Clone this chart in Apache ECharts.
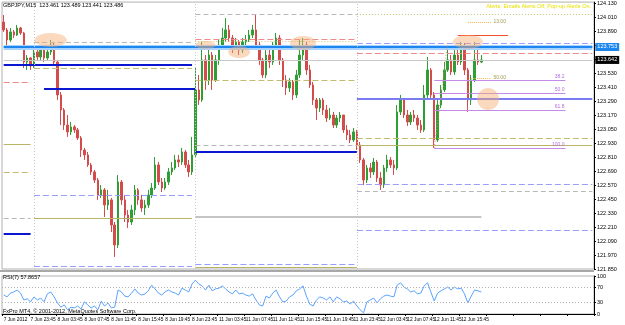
<!DOCTYPE html>
<html><head><meta charset="utf-8">
<script src="https://cdn.jsdelivr.net/npm/echarts@6/dist/echarts.min.js"></script>
<style>html,body{margin:0;padding:0;background:#fff}#c{width:625px;height:325px}</style>
</head><body><div id="c"></div>
<script>
// ---------- data ----------
const symbol = 'GBPJPY,M15';
const headerQuote = '123.461 123.489 123.441 123.486';
const alertText = 'Alerts: Emails Alerts Off, Pop-up Alerts On.';
const copyrightText = 'FxPro MT4, \u00a9 2001-2012, MetaQuotes Software Corp.';
const tickLabels = ['7 Jun 2012','7 Jun 23:45','8 Jun 03:45','8 Jun 07:45','8 Jun 11:45','8 Jun 15:45','8 Jun 19:45','8 Jun 23:45','11 Jun 03:45','11 Jun 07:45','11 Jun 11:45','11 Jun 15:45','11 Jun 19:45','11 Jun 23:45','12 Jun 03:45','12 Jun 07:45','12 Jun 11:45','12 Jun 15:45'];
const totalSlots = 176;
const firstOpen = 123.967;
const closes = [
123.899,123.813,123.882,123.856,123.916,123.873,123.624,123.659,123.590,123.710,
123.667,123.727,123.659,123.710,123.770,123.624,123.342,123.213,123.084,123.025,
123.068,123.042,122.973,122.870,122.828,122.742,122.682,122.613,122.485,122.528,
122.399,122.442,122.227,122.056,122.596,122.442,122.313,122.253,122.356,122.528,
122.442,122.373,122.399,122.485,122.544,122.742,122.596,122.544,122.596,122.682,
122.716,122.785,122.767,122.853,122.742,122.682,122.828,123.385,123.299,123.642,
123.470,123.684,123.470,123.642,123.770,123.830,123.899,123.830,123.744,123.796,
123.727,123.796,123.813,123.856,123.899,123.770,123.642,123.513,123.684,123.624,
123.770,123.830,123.642,123.470,123.402,123.453,123.342,123.513,123.684,123.770,
123.556,123.427,123.299,123.230,123.299,123.213,123.144,123.170,123.084,123.144,
123.170,123.042,122.999,122.956,123.025,122.913,122.785,122.613,122.716,122.682,
122.767,122.630,122.570,122.716,122.785,122.742,122.716,123.196,123.299,123.170,
123.110,123.170,123.144,123.084,123.042,123.342,123.556,123.342,122.956,123.256,
123.385,123.556,123.642,123.539,123.684,123.624,123.744,123.556,123.299,123.470,
123.642,123.624,123.642];
const highs = [
124.027,123.916,123.916,123.899,123.942,123.925,123.882,123.684,123.667,123.744,
123.727,123.753,123.744,123.727,123.813,123.787,123.642,123.367,123.230,123.170,
123.110,123.084,123.059,122.990,122.888,122.853,122.759,122.699,122.630,122.570,
122.544,122.528,122.459,122.253,122.656,122.613,122.485,122.356,122.399,122.570,
122.544,122.485,122.442,122.528,122.587,122.810,122.767,122.630,122.630,122.716,
122.767,122.828,122.828,122.888,122.870,122.785,122.982,123.573,123.513,123.796,
123.684,123.770,123.710,123.684,123.813,123.916,124.001,123.942,123.856,123.830,
123.813,123.830,123.856,123.899,123.942,124.027,123.796,123.659,123.727,123.727,
123.796,123.873,123.856,123.659,123.513,123.487,123.470,123.556,123.813,123.830,
123.796,123.599,123.453,123.316,123.316,123.316,123.256,123.230,123.196,123.170,
123.196,123.170,123.084,123.042,123.059,123.042,122.939,122.802,122.742,122.759,
122.802,122.785,122.682,122.742,122.828,122.810,122.785,123.256,123.342,123.316,
123.213,123.196,123.213,123.170,123.127,123.427,123.667,123.573,123.367,123.299,
123.427,123.624,123.727,123.684,123.770,123.727,123.796,123.787,123.573,123.513,
123.796,123.744,123.684];
const lows = [
123.882,123.770,123.796,123.830,123.847,123.856,123.573,123.556,123.556,123.573,
123.642,123.642,123.624,123.642,123.684,123.599,123.299,123.084,123.042,122.982,
122.999,123.016,122.956,122.810,122.785,122.725,122.656,122.587,122.442,122.459,
122.296,122.356,122.167,121.953,122.030,122.399,122.253,122.202,122.227,122.313,
122.399,122.339,122.313,122.373,122.459,122.528,122.570,122.510,122.528,122.570,
122.656,122.699,122.725,122.742,122.716,122.639,122.656,122.802,123.256,123.282,
123.385,123.427,123.385,123.453,123.599,123.744,123.796,123.796,123.701,123.727,
123.684,123.701,123.770,123.796,123.830,123.744,123.599,123.487,123.487,123.573,
123.599,123.744,123.599,123.410,123.342,123.367,123.299,123.316,123.487,123.642,
123.513,123.402,123.256,123.127,123.196,123.170,123.110,123.127,123.059,123.059,
123.110,123.016,122.956,122.930,122.939,122.870,122.759,122.570,122.587,122.630,
122.656,122.596,122.528,122.544,122.682,122.716,122.656,122.699,123.170,123.144,
123.076,123.084,123.110,123.042,123.016,123.025,123.316,123.299,122.888,122.939,
123.230,123.367,123.539,123.513,123.513,123.599,123.599,123.513,123.196,123.256,
123.453,123.599,123.616];
const rsi = [
50,45,55,58,63,55,37,40,32,45, 37,42,32,53,58,45,29,18,24,11,
18,16,21,13,32,24,16,21,11,34, 21,29,16,18,63,58,47,45,55,66,
55,50,53,61,76,66,55,50,58,63, 58,55,50,68,63,58,79,89,79,74,
63,76,61,66,68,74,66,58,53,63, 53,55,50,47,53,37,24,21,47,42,
55,63,45,32,34,45,50,61,66,74, 47,26,21,37,45,42,37,45,32,45,
40,32,34,26,34,21,11,3,32,37, 42,29,40,47,50,47,45,76,82,71,
66,58,61,53,55,74,82,58,34,55, 61,66,71,63,71,66,68,53,29,47,
63,61,57.8657];
const yTicks = [121.850,121.970,122.090,122.210,122.330,122.450,122.570,122.690,122.810,122.930,123.050,123.170,123.290,123.410,123.530,123.650,123.770,123.890,124.010,124.130];
const rsiTicks = [0, 30, 70, 100];
const rsiLevels = [30, 70];
const daySeparators = [9, 57, 105];
// horizontal levels: [price, fromBar, toBar]
const blueBand = [[123.753, 0, 175]];
const grayDash = [[123.796, 9, 56], [124.036, 57, 105], [122.913, 57, 105], [122.287, 0, 8], [122.519, 105, 175]];
const oliveDash = [[123.573, 9, 56], [123.470, 57, 105], [122.973, 105, 175], [122.682, 0, 8]];
const oliveSolid = [[122.922, 0, 8], [122.287, 9, 56], [121.867, 57, 105], [122.913, 105, 175]];
const oliveDot = [[124.036, 105, 175], [123.805, 57, 105]];
const redDash = [[123.453, 0, 8], [123.822, 57, 105], [123.701, 105, 175]];
const darkBlue = [[123.599, 0, 56], [123.394, 12, 57], [122.853, 57, 105], [122.150, 0, 8]];
const violetBlue = [[123.308, 105, 175]];
const lavenderDash = [[122.485, 9, 56], [121.870, 9, 56], [121.893, 57, 105], [122.579, 105, 175], [122.182, 105, 175], [123.787, 105, 175]];
const grayThick = [[122.296, 57, 142]];
const redShort = [[123.856, 135, 150]];
const orangeDot = [[123.967, 138, 145, '13.00'], [123.487, 139, 145, '50.00']];
const fibLevels = [[123.796, '0.0'], [123.470, '38.2'], [123.359, '50.0'], [123.213, '61.8'], [122.888, '100.0'], [122.296, '161.8']];
const fibRange = [128, 167];
const zigzag = [[128, 122.888], [132, 123.787]];
const zones = [[14, 123.813], [60, 123.770], [70, 123.710], [89, 123.787], [138, 123.796], [144, 123.308]];

// ---------- build ----------
const cats = Array.from({length: totalSlots}, (_, i) => String(i));
const ohlc = closes.map((c, i) => [i === 0 ? firstOpen : closes[i - 1], c, lows[i], highs[i]]);
const bid = closes[closes.length - 1];
const FONT = 'Liberation Sans';

function segs(list, style) {
  return list.map(l => [
    {coord: [String(l[1]), l[0]], lineStyle: style, label: {show: false}},
    {coord: [String(l[2]), l[0]]}
  ]);
}
const S = {
  grayDash: {color: '#b8b8b8', width: 1, type: [5, 3]},
  oliveDash: {color: '#c2bd6e', width: 1, type: [6, 3]},
  oliveSolid: {color: '#b9b466', width: 1, type: 'solid'},
  oliveDot: {color: '#c8c46e', width: 1, type: [1, 2]},
  redDash: {color: '#f08a8a', width: 1, type: [6, 3]},
  darkBlue: {color: '#0a16d0', width: 2, type: 'solid'},
  violetBlue: {color: '#7c7cf2', width: 2, type: 'solid'},
  lavenderDash: {color: '#9a9cff', width: 1, type: [6, 3]},
  grayThick: {color: '#c4c4c4', width: 2, type: 'solid'},
  redShort: {color: '#f0502a', width: 1, type: 'solid'},
  orangeDot: {color: '#f5b24a', width: 1, type: [1, 1]},
  fib: {color: '#c48ae8', width: 1, type: 'solid'},
  sep: {color: '#c8c8c8', width: 1, type: [1, 2]},
  zig: {color: '#f07a7a', width: 1, type: [1, 2]}
};

let ml = [];
ml = ml.concat(blueBand.map(l => [
  {coord: [String(l[1]), l[0]], lineStyle: {color: '#a9d3ff', width: 5, type: 'solid'}, label: {show: false}},
  {coord: [String(l[2]), l[0]]}
]));
ml = ml.concat(blueBand.map(l => [
  {coord: [String(l[1]), l[0]], lineStyle: {color: '#1c86f0', width: 2, type: 'solid'},
   label: {show: true, position: 'end', distance: 3, formatter: l[0].toFixed(3), color: '#fff', backgroundColor: '#1c86f0', padding: [1, 2], fontSize: 5.5, fontFamily: FONT}},
  {coord: [String(l[2]), l[0]]}
]));
ml = ml.concat(segs(grayDash, S.grayDash));
ml = ml.concat(segs(oliveDash, S.oliveDash));
ml = ml.concat(segs(oliveSolid, S.oliveSolid));
ml = ml.concat(segs(oliveDot, S.oliveDot));
ml = ml.concat(segs(redDash, S.redDash));
ml = ml.concat(segs(darkBlue, S.darkBlue));
ml = ml.concat(segs(violetBlue, S.violetBlue));
ml = ml.concat(segs(lavenderDash, S.lavenderDash));
ml = ml.concat(segs(grayThick, S.grayThick));
ml = ml.concat(segs(redShort, S.redShort));
ml = ml.concat(orangeDot.map(l => [
  {coord: [String(l[1]), l[0]], lineStyle: S.orangeDot,
   label: {show: true, position: 'end', distance: 2, formatter: l[3], color: '#a09a50', fontSize: 5, fontFamily: FONT}},
  {coord: [String(l[2]), l[0]]}
]));
ml = ml.concat(fibLevels.map((f, k) => [
  {coord: [String(fibRange[0]), f[0]],
   lineStyle: Object.assign({}, S.fib, {opacity: (k === 0 || k === fibLevels.length - 1) ? 0 : 1}),
   label: {show: true, position: 'insideEndTop', distance: 1, formatter: f[1], color: '#b070e0', fontSize: 5, fontFamily: FONT}},
  {coord: [String(fibRange[1]), f[0]]}
]));
ml.push([
  {coord: [String(zigzag[0][0]), zigzag[0][1]], lineStyle: S.zig, label: {show: false}},
  {coord: [String(zigzag[1][0]), zigzag[1][1]]}
]);
daySeparators.forEach(d => ml.push({xAxis: String(d), lineStyle: S.sep, label: {show: false}}));
ml.push([
  {coord: ['0', bid], lineStyle: {color: '#c8c8c8', width: 1, type: 'solid'},
   label: {show: true, position: 'end', distance: 3, formatter: bid.toFixed(3), color: '#fff', backgroundColor: '#000', padding: [1, 2], fontSize: 5.5, fontFamily: FONT}},
  {coord: [String(totalSlots - 1), bid]}
]);

const chart = echarts.init(document.getElementById('c'), null, {renderer: 'canvas'});
const axisLabelBase = {fontSize: 5.5, fontFamily: FONT, color: '#000'};

chart.setOption({
  animation: false,
  backgroundColor: '#fff',
  grid: [
    {left: 2, right: 31, top: 2, height: 267, show: true, borderColor: '#b0b0b0', borderWidth: 1},
    {left: 2, right: 31, top: 276, height: 38, show: true, borderColor: '#b0b0b0', borderWidth: 1}
  ],
  xAxis: [
    {type: 'category', gridIndex: 0, data: cats, boundaryGap: true,
     axisLine: {show: false}, axisTick: {show: false}, axisLabel: {show: false}, splitLine: {show: false}},
    {type: 'category', gridIndex: 1, data: cats, boundaryGap: true,
     axisLine: {show: true, lineStyle: {color: '#000', width: 1}},
     axisTick: {show: true, interval: 7, length: 2, lineStyle: {color: '#000'}},
     axisLabel: Object.assign({}, axisLabelBase, {fontSize: 4.8, interval: 7, align: 'left', margin: 3, hideOverlap: false,
       formatter: (v, i) => (i % 8 === 0 && tickLabels[i / 8]) ? tickLabels[i / 8] : ''}),
     splitLine: {show: false}}
  ],
  yAxis: [
    {type: 'value', gridIndex: 0, position: 'right', min: 121.85, max: 124.138,
     axisLine: {show: true, lineStyle: {color: '#000'}},
     axisTick: {show: true, length: 2, customValues: yTicks, lineStyle: {color: '#000'}},
     axisLabel: Object.assign({}, axisLabelBase, {margin: 3, customValues: yTicks, formatter: v => v.toFixed(3)}),
     splitLine: {show: false}},
    {type: 'value', gridIndex: 1, position: 'right', min: 0, max: 100,
     axisLine: {show: true, lineStyle: {color: '#000'}},
     axisTick: {show: true, length: 2, customValues: rsiTicks, lineStyle: {color: '#000'}},
     axisLabel: Object.assign({}, axisLabelBase, {margin: 3, customValues: rsiTicks}),
     splitLine: {show: false}}
  ],
  series: [
    {type: 'candlestick', xAxisIndex: 0, yAxisIndex: 0, data: ohlc, barWidth: 2,
     itemStyle: {color: '#2f9e35', color0: '#d44b4b', borderColor: '#2f9e35', borderColor0: '#d44b4b', borderWidth: 1},
     markLine: {silent: true, symbol: ['none', 'none'], animation: false, precision: 3,
       lineStyle: {type: 'solid'}, label: {show: false}, data: ml}},
    {type: 'line', xAxisIndex: 1, yAxisIndex: 1, data: rsi, showSymbol: false, silent: true,
     lineStyle: {color: '#5aa2ff', width: 1},
     markLine: {silent: true, symbol: ['none', 'none'], label: {show: false},
       lineStyle: {color: '#b0b0b0', type: [1, 2], width: 1},
       data: rsiLevels.map(v => ({yAxis: v}))}}
  ]
});

// highlight ellipses anchored on data coordinates, plus fixed page texts
const zoneRadii = [[16, 7], [10, 4], [11, 6], [13, 7], [15, 7], [11, 11]];
const ellipses = zones.map((z, k) => {
  const p = chart.convertToPixel({xAxisIndex: 0, yAxisIndex: 0}, [String(z[0]), z[1]]);
  return {type: 'ellipse', silent: true, z: 100,
    shape: {cx: p[0], cy: p[1], rx: zoneRadii[k][0], ry: zoneRadii[k][1]},
    style: {fill: 'rgba(245,170,110,0.45)'}};
});
const texts = [
  {type: 'text', left: 3, top: 2, z: 100, style: {text: symbol + '  ' + headerQuote, fontSize: 5.5, fontFamily: FONT, fill: '#000'}},
  {type: 'text', right: 34, top: 3, z: 100, style: {text: alertText, fontSize: 5.5, fontFamily: FONT, fill: '#e8e000'}},
  {type: 'text', left: 3, top: 274, z: 100, style: {text: 'RSI(7) ' + rsi[rsi.length - 1].toFixed(4), fontSize: 5.5, fontFamily: FONT, fill: '#000'}},
  {type: 'text', left: 3, top: 308, z: 100, style: {text: copyrightText, fontSize: 5.5, fontFamily: FONT, fill: '#000'}},
  {type: 'rect', left: 0, top: 270, z: 100, shape: {width: 594, height: 2}, style: {fill: '#a8a8a8'}, silent: true}
];
chart.setOption({graphic: ellipses.concat(texts)});
</script></body></html>
